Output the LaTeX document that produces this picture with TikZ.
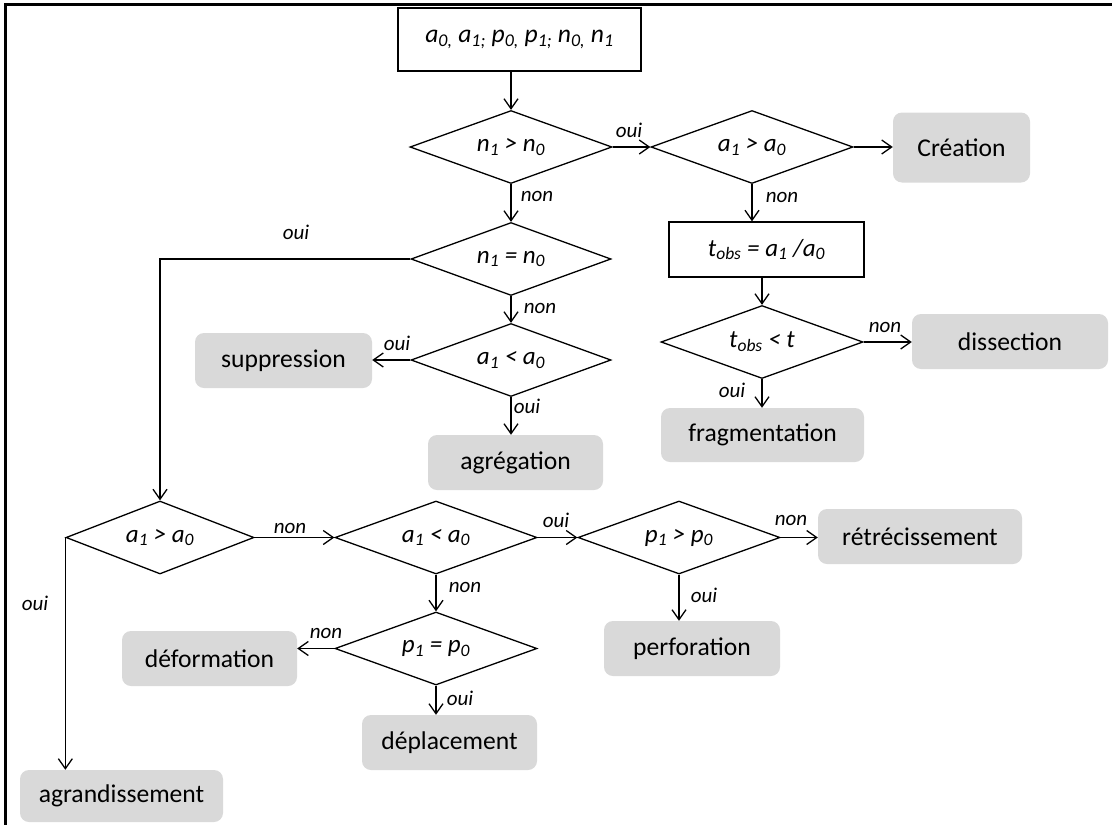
\documentclass[tikz,border=0pt]{standalone}
\usepackage{fontspec}
\setmainfont{Carlito}
\usetikzlibrary{shapes.geometric,arrows.meta}
\definecolor{boxgray}{HTML}{D9D9D9}
\newcommand{\sbx}[1]{\textsubscript{#1}}
\tikzset{
  dec/.style={diamond, draw, line width=1.3pt, aspect=2.75, inner sep=0pt,
    minimum width=202pt, minimum height=73pt,
    font=\fontsize{25}{30}\selectfont\itshape},
  res/.style={rounded corners=9pt, fill=boxgray, inner sep=0pt,
    minimum height=55pt, font=\fontsize{25.6}{30}\selectfont},
  arr/.style={-{Straight Barb[length=10pt,width=14pt]}, line width=1.3pt},
  lnk/.style={line width=1.3pt},
  lbl/.style={anchor=base, inner sep=0pt, font=\fontsize{21}{24}\selectfont\itshape}
}
\begin{document}
\begin{tikzpicture}[x=1pt,y=-1pt]
\useasboundingbox (0,0) rectangle (1112,825);
% frame
\draw[line width=3pt] (5.5,826) -- (5.5,4.5) -- (1113,4.5);

% nodes
\node[draw, line width=2.5pt, minimum width=243pt, minimum height=63pt, inner sep=0pt,
  font=\fontsize{25.6}{30}\selectfont\itshape] (input) at (519.5,39.5)
  {a\sbx{0,} a\sbx{1;} p\sbx{0,} p\sbx{1;} n\sbx{0,} n\sbx{1}};

\node[dec] (d1) at (511,147) {n\sbx{1} > n\sbx{0}};
\node[dec] (d2) at (752,147) {a\sbx{1} > a\sbx{0}};
\node[res, minimum width=137pt, minimum height=70pt] (crea) at (961.5,147.5) {Création};
\node[draw, line width=1.3pt, minimum width=195pt, minimum height=55pt, inner sep=0pt,
  font=\fontsize{25}{30}\selectfont\itshape] (tobs) at (766.5,249.5)
  {t\sbx{obs} = a\sbx{1} /a\sbx{0}};
\node[dec] (dt) at (762,342) {t\sbx{obs} < t};
\node[res, minimum width=196pt] (diss) at (1010,341.5) {dissection};
\node[res, minimum width=203pt, minimum height=54pt] (frag) at (762.5,435) {fragmentation};

\node[dec, minimum width=200pt] (d2b) at (511,259) {n\sbx{1} = n\sbx{0}};
\node[dec, minimum width=200pt] (d3) at (511,360) {a\sbx{1} < a\sbx{0}};
\node[res, minimum width=177pt] (supp) at (283.5,360.5) {suppression};
\node[res, minimum width=175pt] (agreg) at (515.5,462.5) {agrégation};

\node[dec, minimum width=188pt] (dA) at (160,537.5) {a\sbx{1} > a\sbx{0}};
\node[dec] (dB) at (436,537.5) {a\sbx{1} < a\sbx{0}};
\node[dec] (dC) at (679,537.5) {p\sbx{1} > p\sbx{0}};
\node[res, minimum width=204pt] (retr) at (920,536.5) {rétrécissement};
\node[res, minimum width=176pt] (perf) at (692,648.5) {perforation};
\node[dec] (dD) at (436,648.5) {p\sbx{1} = p\sbx{0}};
\node[res, minimum width=175pt] (def) at (209.5,658.5) {déformation};
\node[res, minimum width=175pt] (depl) at (449.5,742.5) {déplacement};
\node[res, minimum width=203pt, minimum height=52pt] (agr) at (121.5,796) {agrandissement};

% connectors
\draw[arr] (input.south -| d1.north) -- (d1.north);
\draw[arr] (d1.east) -- (d2.west);
\draw[arr] (d2.east) -- (d2.east -| crea.west);
\draw[arr] (d2.south) -- (d2.south |- tobs.north);
\draw[arr] (dt.north |- tobs.south) -- (dt.north);
\draw[arr] (dt.east) -- (dt.east -| diss.west);
\draw[arr] (dt.south) -- (dt.south |- frag.north);
\draw[arr] (d1.south) -- (d2b.north);
\draw[arr] (d2b.south) -- (d3.north);
\draw[arr] (d3.west) -- (d3.west -| supp.east);
\draw[arr] (d3.south) -- (d3.south |- agreg.north);
\draw[arr] (d2b.west) -- (d2b.west -| dA.north) -- (dA.north);
\draw[arr] (dA.west) -- (dA.west |- agr.north);
\draw[arr] (dA.east) -- (dB.west);
\draw[arr] (dB.east) -- (dC.west);
\draw[arr] (dC.east) -- (dC.east -| retr.west);
\draw[arr] (dC.south) -- (dC.south |- perf.north);
\draw[arr] (dB.south) -- (dD.north);
\draw[arr] (dD.west) -- (dD.west -| def.east);
\draw[arr] (dD.south) -- (dD.south |- depl.north);

% labels
\node[lbl] (l1) at (629,137) {oui};
\node[lbl] (l2) at (537,201) {non};
\node[lbl] (l3) at (296,239) {oui};
\node[lbl] (l4) at (540,313) {non};
\node[lbl] (l5) at (397,350) {oui};
\node[lbl] (l6) at (527,413) {oui};
\node[lbl] (l7) at (782,202) {non};
\node[lbl] (l8) at (885,332) {non};
\node[lbl] (l9) at (732,397) {oui};
\node[lbl] (l10) at (290,533) {non};
\node[lbl] (l11) at (35,610) {oui};
\node[lbl] (l12) at (556,527) {oui};
\node[lbl] (l13) at (465,592) {non};
\node[lbl] (l14) at (326,638) {non};
\node[lbl] (l15) at (791,525) {non};
\node[lbl] (l16) at (704,602) {oui};
\node[lbl] (l17) at (460,705) {oui};
\end{tikzpicture}
\end{document}
